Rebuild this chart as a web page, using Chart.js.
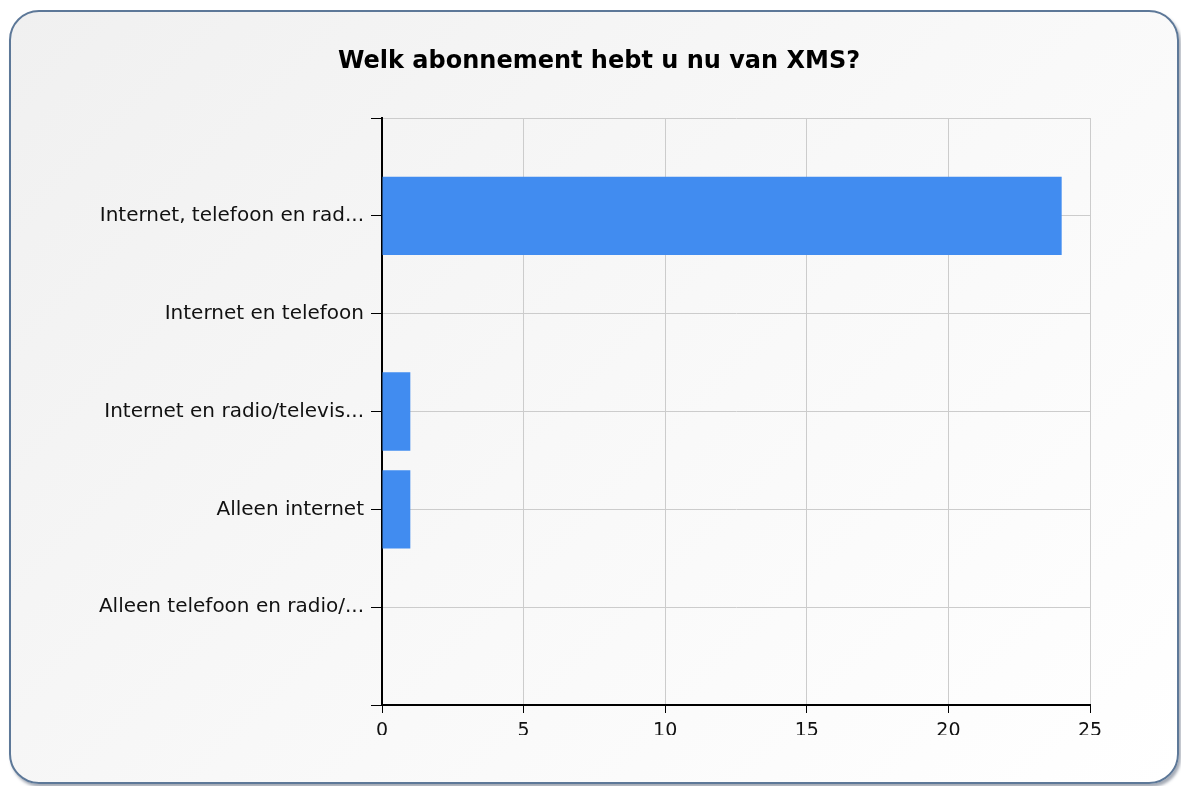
<!DOCTYPE html>
<html>
<head>
<meta charset="utf-8">
<script src="https://cdn.jsdelivr.net/npm/chart.js@4/dist/chart.umd.min.js"></script>
<style>
  html, body { margin: 0; padding: 0; background: #ffffff; width: 1181px; height: 786px; overflow: hidden; }
  #frame {
    position: absolute; left: 9px; top: 10px; width: 1166px; height: 770px;
    border: 2px solid #5d7898; border-radius: 30px;
    background: linear-gradient(135deg, #f0f0f0 0%, #f8f8f8 50%, #ffffff 100%);
    box-shadow: 2px 3px 3px rgba(90,100,120,0.55);
  }
  #wrap { position: absolute; left: 0; top: 0; width: 1181px; height: 786px; }
</style>
</head>
<body>
<div id="frame"></div>
<div id="wrap"><canvas id="c" width="1181" height="786"></canvas></div>
<script>
const titleText = 'Welk abonnement hebt u nu van XMS?';
const categories = [
  'Internet, telefoon en rad...',
  'Internet en telefoon',
  'Internet en radio/televis...',
  'Alleen internet',
  'Alleen telefoon en radio/...'
];
const counts = [24, 0, 1, 1, 0];
const xTicks = [0, 5, 10, 15, 20, 25];

// pad with empty slots at both ends so the category axis spans one extra step above and below
const labels = [''].concat(categories, ['']);
const values = [null].concat(counts, [null]);

// let the long category labels extend left of the (narrow) y-axis box without being clipped
const widenYLabelArea = {
  id: 'widenYLabelArea',
  afterLayout(chart) { chart.scales.y.left = 20; }
};

new Chart(document.getElementById('c'), {
  type: 'bar',
  data: {
    labels: labels,
    datasets: [{
      data: values,
      backgroundColor: '#418cf0',
      borderWidth: 0,
      barPercentage: 0.8,
      categoryPercentage: 1.0
    }]
  },
  plugins: [widenYLabelArea],
  options: {
    indexAxis: 'y',
    responsive: false,
    animation: false,
    devicePixelRatio: 1,
    layout: { padding: { left: 108, right: 91, top: 0, bottom: 51 } },
    plugins: {
      legend: { display: false },
      tooltip: { enabled: false },
      title: {
        display: true,
        text: titleText,
        color: '#000000',
        font: { family: 'DejaVu Sans', size: 24, weight: 'bold', lineHeight: 1.2 },
        padding: { top: 47, bottom: 42.2 }
      }
    },
    scales: {
      x: {
        type: 'linear',
        min: 0, max: 25,
        afterBuildTicks: (s) => { s.ticks = xTicks.map(v => ({ value: v })); },
        afterFit: (s) => { s.height = 30; },
        grid: { color: '#cccccc', tickColor: '#000000', tickLength: 8, lineWidth: 1 },
        border: { color: '#000000', width: 2 },
        ticks: {
          color: '#111111', padding: 7,
          font: { family: 'DejaVu Sans', size: 19 }
        }
      },
      y: {
        type: 'category',
        offset: false,
        afterFit: (s) => { s.width = 274; },
        grid: { offset: false, color: '#cccccc', tickColor: '#000000', tickLength: 11, lineWidth: 1 },
        border: { color: '#000000', width: 2 },
        ticks: {
          color: '#111111', padding: 7, autoSkip: false,
          font: { family: 'DejaVu Sans', size: 20 }
        }
      }
    }
  }
});
</script>
</body>
</html>
